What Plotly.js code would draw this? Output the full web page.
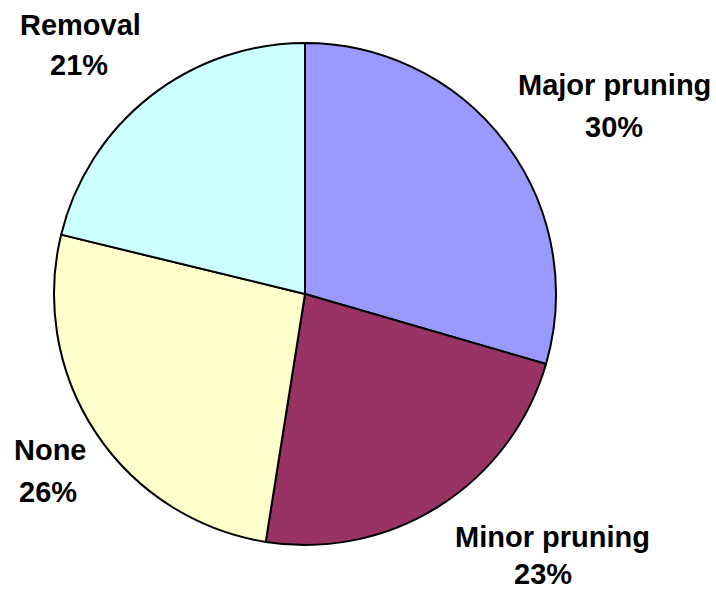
<!DOCTYPE html>
<html>
<head>
<meta charset="utf-8">
<script src="https://cdn.plot.ly/plotly-3.0.1.min.js"></script>
<style>html,body{margin:0;padding:0;background:#fff;}#chart{width:716px;height:589px;}</style>
</head>
<body>
<div id="chart"></div>
<script>
// Data
const categories = ['Major pruning', 'Minor pruning', 'None', 'Removal'];
const shares = [29.5, 23.0, 26.3, 21.2];
const percentLabels = ['30%', '23%', '26%', '21%'];
const colors = ['#9999FF', '#993366', '#FFFFCC', '#CCFFFF'];

const W = 716, H = 589;
// label placement (pixel centers for name line and percent line)
const labelPos = [
  {x: 614, y1: 85, x2: 614, y2: 127},
  {x: 552, y1: 537, x2: 543, y2: 574},
  {x: 51, y1: 450, x2: 48, y2: 492},
  {x: 80, y1: 25, x2: 79, y2: 65}
];
const font = {family: 'Arial, Liberation Sans, sans-serif', size: 29, color: '#000'};
const annotations = [];
categories.forEach((c, i) => {
  const p = labelPos[i];
  annotations.push({text: '<b>' + c + '</b>', x: p.x / W, y: 1 - p.y1 / H, xref: 'paper', yref: 'paper',
    xanchor: 'center', yanchor: 'middle', showarrow: false, font: font});
  annotations.push({text: '<b>' + percentLabels[i] + '</b>', x: p.x2 / W, y: 1 - p.y2 / H, xref: 'paper', yref: 'paper',
    xanchor: 'center', yanchor: 'middle', showarrow: false, font: font});
});

const cx = 305, cy = 294, r = 251;
const trace = {
  type: 'pie',
  labels: categories,
  values: shares,
  sort: false,
  direction: 'clockwise',
  rotation: 0,
  textinfo: 'none',
  hoverinfo: 'label+percent',
  marker: {colors: colors, line: {color: '#000', width: 2}},
  domain: {x: [(cx - r) / W, (cx + r) / W], y: [1 - (cy + r) / H, 1 - (cy - r) / H]},
  showlegend: false
};
Plotly.newPlot('chart', [trace], {
  width: W, height: H,
  margin: {l: 0, r: 0, t: 0, b: 0},
  paper_bgcolor: '#fff',
  annotations: annotations,
  showlegend: false
}, {displayModeBar: false, staticPlot: true});
</script>
</body>
</html>
